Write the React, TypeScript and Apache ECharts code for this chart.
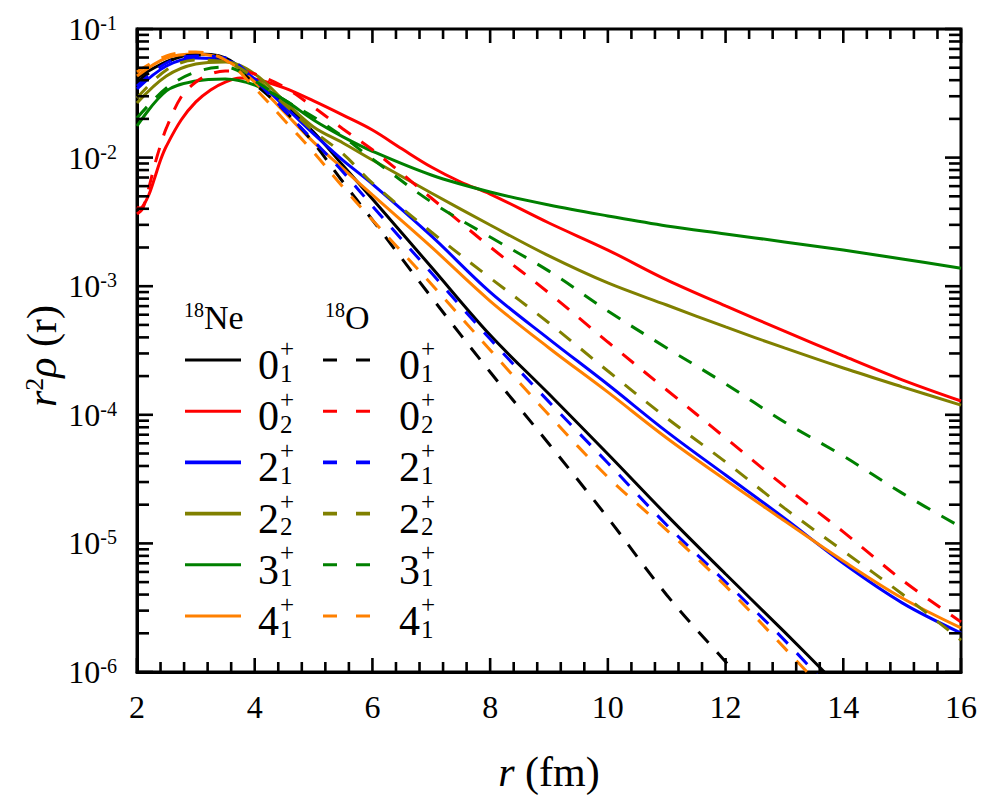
import React, { useEffect, useRef } from "react";
import * as echarts from "echarts";

const SERIF = "Liberation Serif";

// radial grid (fm) shared by most curves
const R = [2, 2.5, 3, 3.5, 4, 4.5, 5, 5.5, 6, 7, 8, 9, 10, 11, 12, 13, 14, 15, 16];
// finer grids for the two 0+_2 states, which rise steeply at small r
const R_NE_02 = [2, 2.05, 2.1, 2.2, 2.3, 2.4, 2.5, 2.75, 3, 3.25, 3.5, 3.75, 4, 4.5, 5, 5.5, 6, 6.5, 7, 7.5, 8, 9, 10, 11, 12, 13, 14, 15, 16];
const R_O_02 = [2, 2.1, 2.2, 2.3, 2.4, 2.5, 2.75, 3, 3.25, 3.5, 3.75, 4, 4.5, 5, 5.5, 6, 7, 8, 9, 10, 11, 12, 13, 14, 15, 16];

// 18Ne, r^2 rho(r)
const NE_01 = [0.0416, 0.0554, 0.0639, 0.0595, 0.0401, 0.0261, 0.0158, 0.00868, 0.00476, 0.00141, 4.17e-4, 1.45e-4, 4.96e-5, 1.66e-5, 5.78e-6, 2.05e-6, 7.1e-7, null, null];
const NE_02 = [0.00413, 0.00405, 0.0042, 0.00512, 0.00694, 0.00958, 0.0123, 0.0196, 0.0271, 0.0336, 0.0387, 0.0416, 0.0409, 0.0348, 0.0276, 0.0214, 0.0164, 0.0117, 0.00845, 0.00646, 0.00521, 0.0031, 0.00191, 0.00112, 7.02e-4, 4.48e-4, 2.87e-4, 1.87e-4, 1.28e-4];
const NE_21 = [0.0342, 0.0516, 0.0595, 0.0574, 0.0409, 0.0252, 0.0153, 0.00951, 0.00623, 0.00246, 9.0e-4, 3.88e-4, 1.72e-4, 7.4e-5, 3.4e-5, 1.57e-5, 7.0e-6, 3.45e-6, 2.01e-6];
const NE_22 = [0.0266, 0.0431, 0.0534, 0.0554, 0.0447, 0.0276, 0.0173, 0.013, 0.00958, 0.00531, 0.00299, 0.00172, 0.00106, 7.14e-4, 4.82e-4, 3.31e-4, 2.31e-4, 1.65e-4, 1.19e-4];
const NE_31 = [0.0176, 0.033, 0.0394, 0.0409, 0.0367, 0.0281, 0.0196, 0.0145, 0.0112, 0.00732, 0.0054, 0.00428, 0.00352, 0.00294, 0.00255, 0.00221, 0.00191, 0.00163, 0.00138];
const NE_41 = [0.0431, 0.0595, 0.0639, 0.0574, 0.0387, 0.0226, 0.0132, 0.00822, 0.00512, 0.00202, 7.67e-4, 3.31e-4, 1.5e-4, 6.6e-5, 3.11e-5, 1.5e-5, 7.3e-6, 3.76e-6, 2.2e-6];

// 18O, r^2 rho(r)
const O_01 = [0.0387, 0.0554, 0.0628, 0.0574, 0.0374, 0.0234, 0.013, 0.00646, 0.00327, 8.24e-4, 2.15e-4, 5.93e-5, 1.58e-5, 3.97e-6, 1.2e-6, 3.7e-7, null, null, null];
const O_02 = [0.00364, 0.00405, 0.0058, 0.00876, 0.0125, 0.017, 0.0296, 0.0387, 0.0447, 0.0471, 0.0471, 0.0447, 0.0354, 0.0247, 0.0167, 0.0115, 0.00485, 0.00202, 8.85e-4, 3.68e-4, 1.56e-4, 6.6e-5, 2.79e-5, 1.23e-5, 5.19e-6, 2.45e-6];
const O_21 = [0.036, 0.0544, 0.0617, 0.0595, 0.0401, 0.0234, 0.0135, 0.00773, 0.0042, 0.00127, 3.88e-4, 1.26e-4, 4.22e-5, 1.39e-5, 5.01e-6, 1.77e-6, 5.7e-7, null, null];
const O_22 = [0.0291, 0.048, 0.0574, 0.0554, 0.0416, 0.0261, 0.0161, 0.0107, 0.00634, 0.00264, 0.00116, 5.17e-4, 2.19e-4, 9.44e-5, 4.3e-5, 1.88e-5, 8.73e-6, 4.04e-6, 1.77e-6];
const O_31 = [0.0203, 0.0348, 0.0463, 0.0506, 0.0394, 0.0281, 0.0207, 0.0145, 0.00975, 0.00452, 0.00241, 0.00131, 6.42e-4, 3.31e-4, 1.74e-4, 8.79e-5, 4.78e-5, 2.46e-5, 1.34e-5];
const O_41 = [0.0463, 0.0617, 0.0663, 0.0574, 0.0348, 0.0196, 0.011, 0.0059, 0.00327, 0.00104, 3.19e-4, 9.96e-5, 3.28e-5, 1.27e-5, 4.66e-6, 1.54e-6, 5.0e-7, null, null];

// state labels: [J, index]
const STATES = [["0", "1"], ["0", "2"], ["2", "1"], ["2", "2"], ["3", "1"], ["4", "1"]];
const COLORS = ["#000000", "#ff0000", "#0000ff", "#808000", "#008000", "#ff8000"];

// axis extents and tick positions
const X_MIN = 2;
const X_MAX = 16;
const Y_MIN = 1e-6;
const Y_MAX = 0.1;
const X_MAJOR = [2, 4, 6, 8, 10, 12, 14, 16];
const X_MINOR: number[] = [];
for (let i = 0; i < X_MAJOR.length - 1; i++) {
  for (let k = 1; k < 5; k++) X_MINOR.push(Number((X_MAJOR[i] + k * 0.4).toFixed(1)));
}
const Y_MAJOR = [1e-6, 1e-5, 1e-4, 1e-3, 1e-2, 1e-1];
const Y_MINOR: number[] = [];
for (let k = -6; k <= -2; k++) {
  for (let m = 2; m <= 9; m++) Y_MINOR.push(Number((m * Math.pow(10, k)).toPrecision(3)));
}

const GRID = { left: 137, right: 21, top: 29, bottom: 126 };

const CURVES = [
  { name: "Ne 0+1", r: R, v: NE_01, color: COLORS[0], dashed: false },
  { name: "Ne 0+2", r: R_NE_02, v: NE_02, color: COLORS[1], dashed: false },
  { name: "Ne 2+1", r: R, v: NE_21, color: COLORS[2], dashed: false },
  { name: "Ne 2+2", r: R, v: NE_22, color: COLORS[3], dashed: false },
  { name: "Ne 3+1", r: R, v: NE_31, color: COLORS[4], dashed: false },
  { name: "Ne 4+1", r: R, v: NE_41, color: COLORS[5], dashed: false },
  { name: "O 0+1", r: R, v: O_01, color: COLORS[0], dashed: true },
  { name: "O 0+2", r: R_O_02, v: O_02, color: COLORS[1], dashed: true },
  { name: "O 2+1", r: R, v: O_21, color: COLORS[2], dashed: true },
  { name: "O 2+2", r: R, v: O_22, color: COLORS[3], dashed: true },
  { name: "O 3+1", r: R, v: O_31, color: COLORS[4], dashed: true },
  { name: "O 4+1", r: R, v: O_41, color: COLORS[5], dashed: true },
];

function txt(x: number, y: number, text: string, size: number, extra: any = {}) {
  return {
    type: "text",
    x,
    y,
    style: {
      text,
      fill: "#000",
      fontSize: size,
      fontFamily: SERIF,
      align: "left",
      verticalAlign: "middle",
      ...extra,
    },
  };
}

function textElements() {
  const els: any[] = [];
  const headRich = {
    s: { fontSize: 20, fontFamily: SERIF, color: "#000", verticalAlign: "top" },
    b: { fontSize: 34, fontFamily: SERIF, color: "#000" },
  };
  els.push(txt(184, 317, "{s|18}{b|Ne}", 34, { rich: headRich }));
  els.push(txt(325, 317, "{s|18}{b|O}", 34, { rich: headRich }));
  STATES.forEach((s, i) => {
    const y = 360 + i * 51.2;
    const w = i === 2 || i === 3 ? 3.6 : 3;
    els.push({ type: "line", shape: { x1: 185, y1: y, x2: 241, y2: y }, style: { stroke: COLORS[i], lineWidth: w } });
    els.push({ type: "line", shape: { x1: 323, y1: y, x2: 370, y2: y }, style: { stroke: COLORS[i], lineWidth: w, lineDash: [14, 19] } });
    for (const x0 of [258, 399]) {
      els.push(txt(x0, y + 5, s[0], 42));
      els.push(txt(x0 + 22, y - 12, "+", 25));
      els.push(txt(x0 + 22, y + 13, s[1], 25));
    }
  });
  // axis titles
  els.push(
    txt(549, 772, "{i|r}{n| (fm)}", 42, {
      align: "center",
      rich: {
        i: { fontSize: 42, fontFamily: SERIF, fontStyle: "italic", color: "#000" },
        n: { fontSize: 42, fontFamily: SERIF, color: "#000" },
      },
    })
  );
  els.push({
    type: "text",
    x: 42,
    y: 356,
    rotation: Math.PI / 2,
    style: {
      text: "{i|r}{s|2}{i|ρ}{n| (r)}",
      align: "center",
      verticalAlign: "middle",
      fontSize: 42,
      fontFamily: SERIF,
      fill: "#000",
      rich: {
        i: { fontSize: 42, fontFamily: SERIF, fontStyle: "italic", color: "#000" },
        s: { fontSize: 26, fontFamily: SERIF, color: "#000", verticalAlign: "top" },
        n: { fontSize: 42, fontFamily: SERIF, color: "#000" },
      },
    },
  });
  return els;
}

export default function App() {
  const ref = useRef<HTMLDivElement>(null);
  const tickRef = useRef<HTMLDivElement>(null);

  useEffect(() => {
    if (!ref.current || !tickRef.current) return;
    const chart = echarts.init(ref.current, undefined, { renderer: "svg" });

    const lineSeries = CURVES.map((c) => ({
      name: c.name,
      type: "line",
      showSymbol: false,
      symbol: "none",
      smooth: 0.35,
      silent: true,
      lineStyle: {
        color: c.color,
        width: 3,
        type: c.dashed ? [15, 13] : "solid",
      },
      data: c.r
        .map((r, i) => [r, c.v[i]])
        .filter((p) => p[1] !== null && p[1] !== undefined),
    }));

    chart.setOption({
      animation: false,
      grid: { ...GRID, show: true, borderColor: "#000", borderWidth: 3, backgroundColor: "transparent" },
      xAxis: {
        type: "value",
        min: X_MIN,
        max: X_MAX,
        interval: 2,
        axisLine: { show: true, lineStyle: { color: "#000", width: 3 } },
        axisTick: { show: false },
        splitLine: { show: false },
        axisLabel: { show: true, margin: 19, fontSize: 32, fontFamily: SERIF, color: "#000" },
      },
      yAxis: {
        type: "log",
        logBase: 10,
        min: Y_MIN,
        max: Y_MAX,
        axisLine: { show: true, lineStyle: { color: "#000", width: 3 } },
        axisTick: { show: false },
        splitLine: { show: false },
        axisLabel: {
          show: true,
          margin: 20,
          formatter: (v: number) => `{b|10}{s|${Math.round(Math.log10(v))}}`,
          rich: {
            b: { fontSize: 32, fontFamily: SERIF, color: "#000" },
            s: { fontSize: 20, fontFamily: SERIF, color: "#000", verticalAlign: "top" },
          },
        },
      },
      series: lineSeries,
      graphic: { elements: textElements() },
    });

    // tick layer: same grid and scales, inward ticks on all four sides
    const tickChart = echarts.init(tickRef.current, undefined, { renderer: "svg" });
    tickChart.setOption({
      animation: false,
      grid: GRID,
      xAxis: { type: "value", min: X_MIN, max: X_MAX, interval: 2, show: false },
      yAxis: { type: "log", logBase: 10, min: Y_MIN, max: Y_MAX, show: false },
      series: [{ type: "line", symbol: "none", silent: true, lineStyle: { opacity: 0 }, data: [[X_MIN, Y_MIN], [X_MAX, Y_MAX]] }],
    });
    const toPx = (x: number, y: number) =>
      tickChart.convertToPixel({ xAxisIndex: 0, yAxisIndex: 0 }, [x, y]) as number[];
    const lb = toPx(X_MIN, Y_MIN);
    const rt = toPx(X_MAX, Y_MAX);
    const els: any[] = [];
    const seg = (a: number, b: number, c: number, d: number) =>
      els.push({ type: "line", shape: { x1: a, y1: b, x2: c, y2: d }, style: { stroke: "#000", lineWidth: 2.6 } });
    X_MAJOR.forEach((v) => {
      const px = toPx(v, 1e-3)[0];
      seg(px, lb[1], px, lb[1] - 14);
      seg(px, rt[1], px, rt[1] + 14);
    });
    X_MINOR.forEach((v) => {
      const px = toPx(v, 1e-3)[0];
      seg(px, lb[1], px, lb[1] - 10);
      seg(px, rt[1], px, rt[1] + 10);
    });
    Y_MAJOR.forEach((v) => {
      const py = toPx(5, v)[1];
      seg(lb[0], py, lb[0] + 16, py);
      seg(rt[0] - 16, py, rt[0], py);
    });
    Y_MINOR.forEach((v) => {
      const py = toPx(5, v)[1];
      seg(lb[0], py, lb[0] + 12, py);
      seg(rt[0] - 12, py, rt[0], py);
    });
    tickChart.setOption({ graphic: { elements: els } });

    return () => {
      tickChart.dispose();
      chart.dispose();
    };
  }, []);

  return (
    <div style={{ position: "fixed", left: 0, top: 0, width: 982, height: 798, background: "#fff" }}>
      <div ref={ref} style={{ position: "absolute", left: 0, top: 0, width: 982, height: 798 }} />
      <div
        ref={tickRef}
        style={{ position: "absolute", left: 0, top: 0, width: 982, height: 798, pointerEvents: "none" }}
      />
    </div>
  );
}
